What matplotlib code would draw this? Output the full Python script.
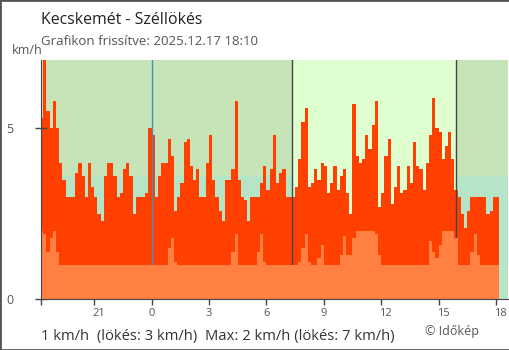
import numpy as np
import matplotlib.pyplot as plt
from matplotlib.patches import Rectangle
from matplotlib.transforms import ScaledTranslation

plt.rcParams['font.family'] = ['Open Sans', 'DejaVu Sans']

# 10 minute samples from 18:10 the day before to 18:10 (hours from midnight)
start = -5 - 50 / 60
step = 1 / 6

gust = [5.3, 7, 5.5, 5, 5.8, 5, 4, 3.5, 3, 3, 3, 3.7, 4, 3.6, 3, 4, 3.3, 3, 2.5, 2.3,
        3.6, 4, 4, 3.6, 3, 3.1, 3.8, 4, 3.6, 2.5, 3, 3, 3, 3.1, 5, 4.8, 3, 3.6, 4, 4,
        4.7, 4.2, 2.6, 3, 3.4, 4.6, 4.7, 3.9, 3.5, 3.8, 3, 3, 4, 4.8, 3.5, 3, 2.6, 2.3, 3.5, 3.5,
        3.8, 5.8, 3.5, 3, 2.9, 2.3, 3, 3, 3, 3.4, 3.9, 3.2, 3.8, 4.8, 3.4, 3.7, 3.8, 3, 3, 3,
        3.3, 4.1, 5.2, 5.6, 3.3, 3.4, 3.8, 3.5, 4, 3.9, 3.1, 3.4, 3.9, 3.2, 3.6, 3.8, 3.1, 2.5, 5.7, 4.2,
        4, 4.1, 4.8, 4.4, 5.1, 5.8, 2.7, 3.1, 4.2, 4.7, 2.8, 3.3, 3.9, 3.1, 3.2, 3.9, 3.4, 4.6, 3.9, 3.8,
        3.2, 4, 4.8, 5.9, 5, 4.9, 4.1, 4.5, 4.9, 4.1, 3.2, 3, 2.5, 2.1, 2.6, 3, 3, 3, 3, 3,
        2.5, 2.6, 3, 3]
wind = [2, 1.9, 1.4, 1.8, 2, 1.4, 1, 1, 1, 1, 1, 1, 1, 1, 1, 1, 1, 1, 1, 1,
        1, 1, 1, 1, 1, 1, 1, 1, 1, 1, 1, 1, 1, 1, 1, 1, 1, 1, 1, 1,
        1.5, 1.8, 1.1, 1, 1, 1, 1, 1, 1, 1, 1, 1, 1, 1, 1, 1, 1, 1, 1, 1,
        1.4, 1.9, 1, 1, 1, 1, 1, 1, 1.4, 1.9, 1.1, 1, 1, 1, 1, 1, 1, 1, 1, 1,
        1, 1.1, 1.5, 1.9, 1.1, 1, 1, 1.2, 1.6, 1, 1, 1, 1, 1, 1.3, 1.85, 1.3, 1.3, 1.8, 2,
        2, 2, 2, 2, 2, 1.9, 1.3, 1, 1, 1, 1, 1, 1, 1, 1, 1, 1, 1, 1, 1,
        1, 1, 1.7, 1.4, 1.2, 1.6, 2, 2, 2, 2, 1.8, 1, 1, 1, 1, 1.4, 1.9, 1.3, 1, 1,
        1, 1, 1, 1]

sunrise = 7 + 20 / 60
sunset = 15 + 54 / 60
tick_hours = [-3, 0, 3, 6, 9, 12, 15, 18]
tick_labels = ['21', '0', '3', '6', '9', '12', '15', '18']

t = start + step * np.arange(len(gust) + 1)
g = np.append(gust, gust[-1])
w = np.append(wind, wind[-1])

fig = plt.figure(figsize=(5.1, 3.5), dpi=100)
ax = fig.add_axes([0.0798, 0.1443, 0.917, 0.6843])
x0, x1 = -5.8, 18.65
ax.set_xlim(x0, x1)
ax.set_ylim(0, 7)

night, night_low, day = '#c6e4b7', '#b6e4c6', '#e0ffd0'
ax.axvspan(x0, sunrise, color=night, lw=0, zorder=0.5)
ax.axvspan(sunrise, sunset, color=day, lw=0, zorder=0.5)
ax.axvspan(sunset, x1, color=night, lw=0, zorder=0.5)
ax.fill_between([x0, sunrise], 0, 3.6, color=night_low, lw=0, zorder=0.6)
ax.fill_between([sunset, x1], 0, 3.6, color=night_low, lw=0, zorder=0.6)

ax.fill_between(t, 0, g, step='post', color='#ff4000', lw=0, zorder=1)
ax.axvline(0, color='#3d8fc6', lw=1, zorder=1.5)
ax.axvline(sunrise, color='#444444', lw=1, zorder=1.5)
ax.axvline(sunset, color='#444444', lw=1, zorder=1.5)
ax.fill_between(t, 0, w, step='post', color='#ff8040', lw=0, zorder=2)

for s in ['top', 'right']:
    ax.spines[s].set_visible(False)
for s in ['left', 'bottom']:
    ax.spines[s].set_color('#444444')
    ax.spines[s].set_zorder(3)

ax.set_yticks([0, 5])
ax.tick_params(axis='y', direction='inout', length=9, width=1, color='#444444',
               labelsize=9, labelcolor='#555555', pad=15)
ax.set_xticks([x0] + tick_hours)
ax.set_xticklabels([''] + tick_labels)
ax.tick_params(axis='x', direction='out', length=4.3, width=1, color='#444444',
               labelsize=8, labelcolor='#555555', pad=1.5)
for tk, lab in zip(ax.xaxis.get_major_ticks()[1:], tick_labels):
    if lab == '0':
        tk.tick1line.set_color('#3d8fc6')
    if len(lab) == 2:
        tk.label1.set_transform(tk.label1.get_transform()
                                + ScaledTranslation(0.045, 0, fig.dpi_scale_trans))

fig.text(40.7 / 510, 1 - 24 / 350, 'Kecskemét - Széllökés', fontsize=11.4,
         color='#222222', va='baseline')
fig.text(40.7 / 510, 1 - 45 / 350, 'Grafikon frissítve: 2025.12.17 18:10', fontsize=9.5,
         color='#555555', va='baseline')
fig.text(12 / 510, 1 - 54.5 / 350, 'km/h', fontsize=9, color='#555555', va='baseline')
fig.text(40.7 / 510, 1 - 340 / 350, '1 km/h  (lökés: 3 km/h)  Max: 2 km/h (lökés: 7 km/h)',
         fontsize=10.6, color='#333333', va='baseline')
fig.text(425 / 510, 1 - 335 / 350, '© Időkép', fontsize=9, color='#555555', va='baseline')

fig.patches.append(Rectangle((0, 0), 1, 1, transform=fig.transFigure, fill=False,
                             edgecolor='#555555', lw=2))

fig.savefig('out.png', dpi=100)
